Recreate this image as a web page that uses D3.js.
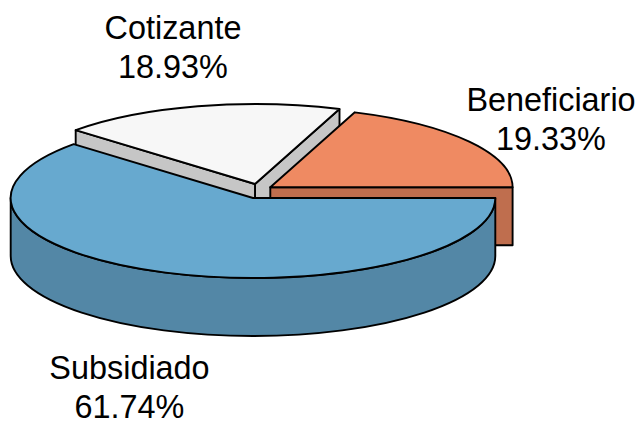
<!DOCTYPE html>
<html><head><meta charset="utf-8">
<script src="https://cdn.jsdelivr.net/npm/d3@7/dist/d3.min.js"></script>
<style>html,body{margin:0;padding:0;background:#fff}svg{display:block}</style>
</head><body><script>
const categories = ["Subsidiado", "Beneficiario", "Cotizante"];
const values = [61.74, 19.33, 18.93];
const topColors = ["#67A9CF", "#EF8A62", "#F7F7F7"];
const sideColors = ["#5387A6", "#BF6E4E", "#C6C6C6"];
const explode = [[253, 198], [270.3, 187.3], [255, 184]];
const labelPos = [[129.5, 378.5, 417.5], [551, 111, 150], [173, 38.5, 78]];
const rx = 242.3, ry = 80, depth = 58;

const svg = d3.select("body").append("svg").attr("width", 641).attr("height", 421);
const arcs = d3.pie().sort(null).startAngle(0).endAngle(2 * Math.PI)(values);
const theta = [];
let run = 0;
values.forEach((v, i) => {
  const span = arcs[i].endAngle - arcs[i].startAngle;
  if (i === 0) theta.push([0, -span]);
  else { theta.push([run, run + span]); run += span; }
});
const pt = (c, a, dy = 0) => [c[0] + rx * Math.cos(a), c[1] - ry * Math.sin(a) + dy];
const ell = (p, sweep, large = 0) => `A${rx},${ry} 0 ${large} ${sweep} ${p[0]},${p[1]}`;
const style = (s, f) => s.attr("fill", f).attr("stroke", "#000").attr("stroke-width", 1.9).attr("stroke-linejoin", "round");

function topFace(i) {
  const c = explode[i], [a0, a1] = theta[i], p0 = pt(c, a0), p1 = pt(c, a1);
  const large = Math.abs(a1 - a0) > Math.PI ? 1 : 0;
  const sweep = a1 < a0 ? 1 : 0;
  return `M${c}L${p0}${ell(p1, sweep, large)}Z`;
}
function face(i, a) {
  const c = explode[i], p = pt(c, a), q = pt(c, a, depth);
  return `M${c}L${p}L${q}L${c[0]},${c[1] + depth}Z`;
}
const g = svg.append("g");
style(g.append("path").attr("d", face(2, theta[2][0])), sideColors[2]);
style(g.append("path").attr("d", face(2, theta[2][1])), sideColors[2]);
style(g.append("path").attr("d", topFace(2)), topColors[2]);
style(g.append("path").attr("d", face(1, theta[1][0])), sideColors[1]);
style(g.append("path").attr("d", topFace(1)), topColors[1]);
{
  const c = explode[0];
  const r = pt(c, 0), l = pt(c, Math.PI), rd = pt(c, 0, depth), ld = pt(c, Math.PI, depth);
  style(g.append("path").attr("d", `M${r}L${rd}${ell(ld, 1)}L${l}${ell(r, 0)}Z`), sideColors[0]);
  style(g.append("path").attr("d", topFace(0)), topColors[0]);
}
categories.forEach((name, i) => {
  const t = svg.append("text").attr("text-anchor", "middle")
    .attr("font-family", "Liberation Sans, Arial, sans-serif").attr("font-size", 32.4).attr("fill", "#000");
  t.append("tspan").attr("x", labelPos[i][0]).attr("y", labelPos[i][1]).text(name);
  t.append("tspan").attr("x", labelPos[i][0]).attr("y", labelPos[i][2]).text(values[i].toFixed(2) + "%");
});
</script></body></html>
